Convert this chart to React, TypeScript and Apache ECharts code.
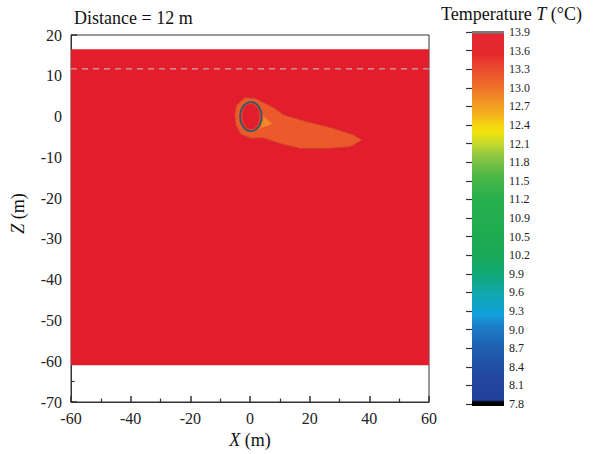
import React, { useEffect, useRef } from "react";
import * as echarts from "echarts";

const FONT = '"Liberation Serif", "Times New Roman", serif';

// Domain extents (m)
const xLimits = [-60, 60];
const zLimits = [-70, 20];
const domainTop = 16.5;
const domainBottom = -61;
const groundZ = 11.7;

// Tunnel
const tunnelCenterX = 0.3;
const tunnelCenterZ = 0;
const tunnelRadius = 3.6;

// Warm plume (13.6 °C band) outline
const plumeX = [-5.1, -4.5, -1.7, 1.6, 4.9, 8.3, 11.2, 19.0, 27.9, 34.6, 37.5, 33.5, 25.7, 16.8, 10.1, 4.5, 0.4, -2.9, -4.7];
const plumeZ = [0.4, 2.8, 4.6, 4.5, 3.3, 2.0, 0.4, -1.3, -2.9, -4.5, -5.8, -7.4, -7.8, -7.8, -6.6, -5.2, -5.3, -4.4, -2.2];

// Lighter wedge next to tunnel (13.3 °C band)
const wedgeX = [3.0, 7.4, 3.0];
const wedgeZ = [1.1, -1.8, -3.0];

// Colour bar tick labels (bottom to top)
const colorbarLabels = ["7.8", "8.1", "8.4", "8.7", "9.0", "9.3", "9.6", "9.9", "10.2", "10.5", "10.9", "11.2", "11.5", "11.8", "12.1", "12.4", "12.7", "13.0", "13.3", "13.6", "13.9"];

const RED = "#e31e2c";

const colorStops = [
  { offset: 0, color: "#7a7a7a" },
  { offset: 0.006, color: "#7a7a7a" },
  { offset: 0.008, color: "#e42630" },
  { offset: 0.064, color: "#e42a2e" },
  { offset: 0.091, color: "#e8442e" },
  { offset: 0.144, color: "#ee6a2a" },
  { offset: 0.197, color: "#f39a22" },
  { offset: 0.224, color: "#f5b21c" },
  { offset: 0.251, color: "#f5d410" },
  { offset: 0.269, color: "#f2e40c" },
  { offset: 0.304, color: "#c0d830" },
  { offset: 0.331, color: "#90c840" },
  { offset: 0.384, color: "#50b848" },
  { offset: 0.445, color: "#28b04c" },
  { offset: 0.597, color: "#1aa856" },
  { offset: 0.651, color: "#10a878" },
  { offset: 0.704, color: "#10a8b0" },
  { offset: 0.757, color: "#10a0dc" },
  { offset: 0.784, color: "#1a80c8" },
  { offset: 0.845, color: "#2060b0" },
  { offset: 0.917, color: "#2248a0" },
  { offset: 0.984, color: "#24409a" },
  { offset: 0.99, color: "#000000" },
  { offset: 1, color: "#000000" },
];

const axisCommon = {
  axisLine: { show: true, onZero: false, lineStyle: { color: "#333", width: 1 } },
  axisTick: { show: true, inside: true, length: 6, lineStyle: { color: "#333", width: 1.5 } },
  minorTick: { show: true, splitNumber: 2, length: 3.5, lineStyle: { color: "#333", width: 1.2 } },
  splitLine: { show: false },
};

const option: any = {
  animation: false,
  backgroundColor: "#fff",
  title: [
    {
      text: "Distance = 12 m",
      left: 69,
      top: 4,
      textStyle: { fontFamily: FONT, fontSize: 18, fontWeight: "normal", color: "#111" },
    },
    {
      text: "{a|Temperature }{b|T}{a| (°C)}",
      left: 436,
      top: 0,
      textStyle: {
        fontFamily: FONT,
        fontSize: 18,
        fontWeight: "normal",
        color: "#111",
        rich: {
          a: { fontFamily: FONT, fontSize: 18, color: "#111" },
          b: { fontFamily: FONT, fontSize: 18, color: "#111", fontStyle: "italic" },
        },
      },
    },
  ],
  grid: [
    { left: 71, top: 35, width: 358, height: 367, show: true, borderColor: "#333", borderWidth: 1, backgroundColor: "transparent" },
    { left: 472, top: 32, width: 32, height: 372, show: false },
  ],
  xAxis: [
    {
      gridIndex: 0,
      type: "value",
      min: xLimits[0],
      max: xLimits[1],
      interval: 20,
      ...axisCommon,
      axisLabel: { fontFamily: FONT, fontSize: 16, color: "#222", margin: 8 },
      name: "{i|X} (m)",
      nameLocation: "middle",
      nameGap: 29,
      nameTextStyle: {
        fontFamily: FONT,
        fontSize: 18,
        color: "#111",
        rich: { i: { fontFamily: FONT, fontSize: 18, fontStyle: "italic", color: "#111" } },
      },
    },
    { gridIndex: 1, type: "value", min: 0, max: 1, show: false },
  ],
  yAxis: [
    {
      gridIndex: 0,
      type: "value",
      min: zLimits[0],
      max: zLimits[1],
      interval: 10,
      ...axisCommon,
      axisLabel: { fontFamily: FONT, fontSize: 16, color: "#222", margin: 9 },
      name: "{i|Z} (m)",
      nameLocation: "middle",
      nameGap: 44,
      nameTextStyle: {
        fontFamily: FONT,
        fontSize: 18,
        color: "#111",
        padding: [0, 0, 0, 10],
        rich: { i: { fontFamily: FONT, fontSize: 18, fontStyle: "italic", color: "#111" } },
      },
    },
    {
      gridIndex: 1,
      type: "category",
      data: colorbarLabels,
      boundaryGap: false,
      position: "right",
      axisLine: { show: false },
      axisTick: { show: true, inside: true, length: 6, interval: 0, lineStyle: { color: "#333", width: 1.2 } },
      axisLabel: { fontFamily: FONT, fontSize: 12, color: "#222", margin: 5, interval: 0 },
      splitLine: { show: false },
      z: 5,
    },
  ],
  series: [
    {
      type: "custom",
      xAxisIndex: 0,
      yAxisIndex: 0,
      silent: true,
      data: [[xLimits[0], domainTop, xLimits[1], domainBottom]],
      renderItem: (params: any, api: any) => {
        const p1 = api.coord([api.value(0), api.value(1)]);
        const p2 = api.coord([api.value(2), api.value(3)]);
        return {
          type: "rect",
          shape: { x: p1[0], y: p1[1], width: p2[0] - p1[0], height: p2[1] - p1[1] },
          style: { fill: RED },
        };
      },
      z: 1,
    },
    {
      type: "custom",
      xAxisIndex: 0,
      yAxisIndex: 0,
      silent: true,
      data: [[plumeX[0], plumeZ[0]]],
      renderItem: (params: any, api: any) => ({
        type: "polygon",
        shape: { points: plumeX.map((x, i) => api.coord([x, plumeZ[i]])) },
        style: { fill: "#ec5a2c", stroke: "#c9472c", lineWidth: 0.8 },
      }),
      z: 2,
    },
    {
      type: "custom",
      xAxisIndex: 0,
      yAxisIndex: 0,
      silent: true,
      data: [[wedgeX[0], wedgeZ[0]]],
      renderItem: (params: any, api: any) => ({
        type: "polygon",
        shape: { points: wedgeX.map((x, i) => api.coord([x, wedgeZ[i]])) },
        style: { fill: "#f2862a" },
      }),
      z: 3,
    },
    {
      type: "custom",
      xAxisIndex: 0,
      yAxisIndex: 0,
      silent: true,
      data: [[tunnelCenterX, tunnelCenterZ, tunnelRadius]],
      renderItem: (params: any, api: any) => {
        const c = api.coord([api.value(0), api.value(1)]);
        const s = api.size([api.value(2), api.value(2)]);
        return {
          type: "group",
          children: [
            {
              type: "ellipse",
              shape: { cx: c[0], cy: c[1], rx: s[0] + 1.5, ry: s[1] + 1.5 },
              style: { fill: "#ef6a2a" },
            },
            {
              type: "ellipse",
              shape: { cx: c[0], cy: c[1], rx: s[0], ry: s[1] },
              style: { fill: RED, stroke: "#3d5a66", lineWidth: 2 },
            },
            {
              type: "ellipse",
              shape: { cx: c[0], cy: c[1], rx: s[0] - 1.7, ry: s[1] - 1.7 },
              style: { fill: "none", stroke: "#e9502c", lineWidth: 1 },
            },
          ],
        };
      },
      z: 4,
    },
    {
      type: "line",
      xAxisIndex: 0,
      yAxisIndex: 0,
      silent: true,
      symbol: "none",
      data: [
        [xLimits[0], groundZ],
        [xLimits[1], groundZ],
      ],
      lineStyle: { color: "#c9a8a8", width: 1.3, type: [6, 5] },
      z: 5,
    },
    {
      type: "custom",
      xAxisIndex: 1,
      yAxisIndex: 1,
      silent: true,
      data: [[0, 0]],
      renderItem: (params: any, api: any) => {
        const top = api.coord([0, colorbarLabels.length - 1]);
        const bottom = api.coord([1, 0]);
        return {
          type: "rect",
          shape: { x: top[0], y: top[1] - 1, width: bottom[0] - top[0], height: bottom[1] - top[1] + 3 },
          style: {
            fill: new echarts.graphic.LinearGradient(0, 0, 0, 1, colorStops),
          },
        };
      },
      z: 1,
    },
  ],
};

export default function App() {
  const ref = useRef<HTMLDivElement>(null);
  useEffect(() => {
    const chart = echarts.init(ref.current as HTMLDivElement, undefined, { renderer: "svg" });
    chart.setOption(option);
    return () => chart.dispose();
  }, []);
  return (
    <div
      ref={ref}
      style={{ position: "fixed", left: 0, top: 0, width: 593, height: 454, background: "#fff" }}
    />
  );
}
